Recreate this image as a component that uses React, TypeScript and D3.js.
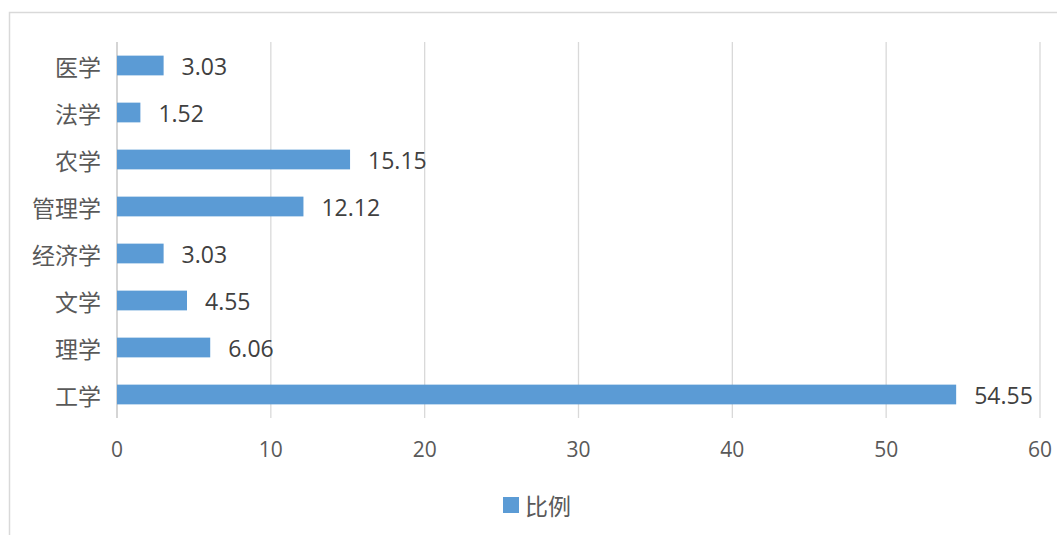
import React from "react";
import * as d3 from "d3";

const categories = ["医学", "法学", "农学", "管理学", "经济学", "文学", "理学", "工学"];
const values = [3.03, 1.52, 15.15, 12.12, 3.03, 4.55, 6.06, 54.55];
const xTicks = [0, 10, 20, 30, 40, 50, 60];
const seriesName = "比例";

export default function App() {
  const W = 1057, H = 535;
  const left = 117, right = 1040, top = 42, bottom = 418;
  const x = d3.scaleLinear().domain([0, 60]).range([left, right]);
  const y = d3.scaleBand().domain(categories).range([top, bottom]).paddingInner(0.58).paddingOuter(0.29);
  const font = "'Noto Sans CJK SC', 'Noto Sans', sans-serif";
  const numFont = "'Open Sans', 'Noto Sans', sans-serif";
  return (
    <svg width={W} height={H} style={{ position: "absolute", left: 0, top: 0, background: "#fff" }}>
      <rect x={9.5} y={12.5} width={W + 10} height={H + 10} fill="#fff" stroke="#D9D9D9" strokeWidth={1.5} />
      {xTicks.map((t) => (
        <line key={t} x1={x(t)} x2={x(t)} y1={top} y2={bottom} stroke={t === 0 ? "#BFBFBF" : "#D9D9D9"} strokeWidth={1.3} />
      ))}
      {categories.map((c, i) => (
        <g key={c}>
          <rect x={x(0)} y={y(c)!} width={x(values[i]) - x(0)} height={y.bandwidth()} fill="#5B9BD5" />
          <text x={left - 16} y={y(c)! + y.bandwidth() / 2} textAnchor="end" dominantBaseline="central"
            fontFamily={font} fontSize={23} fill="#595959">{c}</text>
          <text x={x(values[i]) + 18} y={y(c)! + y.bandwidth() / 2} dominantBaseline="central"
            fontFamily={numFont} fontSize={23} fill="#404040">{values[i].toFixed(2)}</text>
        </g>
      ))}
      {xTicks.map((t) => (
        <text key={"l" + t} x={x(t)} y={449} textAnchor="middle" dominantBaseline="central"
          fontFamily={numFont} fontSize={21} fill="#595959">{t}</text>
      ))}
      <rect x={503} y={497} width={16} height={16} fill="#5B9BD5" />
      <text x={525} y={505} dominantBaseline="central" fontFamily={font} fontSize={23} fill="#595959">{seriesName}</text>
    </svg>
  );
}
